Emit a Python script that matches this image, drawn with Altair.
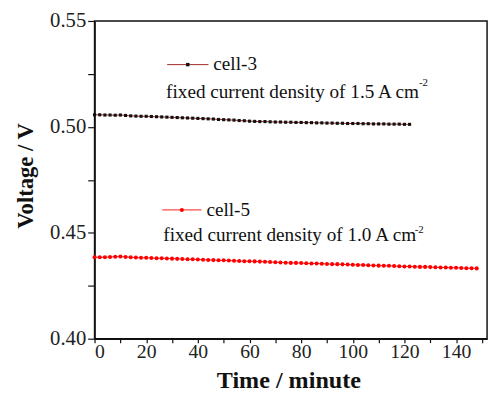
import altair as alt
import pandas as pd

# ---- data ----
time_cell3 = [0, 2, 4, 6, 8, 10, 12, 14, 16, 18, 20, 22, 24, 26, 28, 30, 32, 34, 36, 38,
              40, 42, 44, 46, 48, 50, 52, 54, 56, 58, 60, 62, 64, 66, 68, 70, 72, 74, 76, 78,
              80, 82, 84, 86, 88, 90, 92, 94, 96, 98, 100, 102, 104, 106, 108, 110, 112, 114,
              116, 118, 120, 122]
volt_cell3 = [0.5057, 0.5057, 0.5056, 0.5056, 0.5055, 0.5056, 0.5054, 0.5052, 0.5051, 0.5050,
              0.5050, 0.5049, 0.5048, 0.5047, 0.5046, 0.5045, 0.5044, 0.5043, 0.5042, 0.5041,
              0.5040, 0.5039, 0.5038, 0.5037, 0.5035, 0.5034, 0.5033, 0.5032, 0.5030, 0.5029,
              0.5027, 0.5026, 0.5025, 0.5025, 0.5024, 0.5023, 0.5023, 0.5022, 0.5022, 0.5021,
              0.5021, 0.5020, 0.5020, 0.5019, 0.5019, 0.5018, 0.5018, 0.5017, 0.5017, 0.5016,
              0.5016, 0.5016, 0.5015, 0.5015, 0.5014, 0.5014, 0.5014, 0.5013, 0.5013, 0.5013,
              0.5012, 0.5012]

time_cell5 = [0, 2, 4, 6, 8, 10, 12, 14, 16, 18, 20, 22, 24, 26, 28, 30, 32, 34, 36, 38,
              40, 42, 44, 46, 48, 50, 52, 54, 56, 58, 60, 62, 64, 66, 68, 70, 72, 74, 76, 78,
              80, 82, 84, 86, 88, 90, 92, 94, 96, 98, 100, 102, 104, 106, 108, 110, 112, 114,
              116, 118, 120, 122, 124, 126, 128, 130, 132, 134, 136, 138, 140, 142, 144, 146, 148]
volt_cell5 = [0.4385, 0.4385, 0.4385, 0.4386, 0.4387, 0.4388, 0.4386, 0.4385, 0.4383, 0.4382,
              0.4382, 0.4381, 0.4380, 0.4380, 0.4379, 0.4378, 0.4377, 0.4376, 0.4375, 0.4375,
              0.4374, 0.4373, 0.4372, 0.4371, 0.4370, 0.4370, 0.4369, 0.4368, 0.4367, 0.4366,
              0.4366, 0.4365, 0.4364, 0.4363, 0.4362, 0.4361, 0.4360, 0.4359, 0.4358, 0.4358,
              0.4357, 0.4356, 0.4355, 0.4355, 0.4354, 0.4353, 0.4352, 0.4352, 0.4351, 0.4350,
              0.4349, 0.4348, 0.4348, 0.4347, 0.4346, 0.4345, 0.4344, 0.4344, 0.4343, 0.4342,
              0.4341, 0.4341, 0.4340, 0.4339, 0.4339, 0.4338, 0.4337, 0.4336, 0.4336, 0.4335,
              0.4335, 0.4334, 0.4333, 0.4333, 0.4332]

x_ticks = [0, 10, 20, 30, 40, 50, 60, 70, 80, 90, 100, 110, 120, 130, 140, 150]
y_ticks = [0.40, 0.425, 0.45, 0.475, 0.50, 0.525, 0.55]

# legend samples (data coordinates)
key_name = ["cell-3", "cell-5"]
key_x0 = [28.1, 26.2]
key_x1 = [44.1, 41.4]
key_xm = [36.1, 33.8]
key_y = [0.5294, 0.4608]

# annotation texts
ann_text = ["cell-3", "fixed current density of 1.5 A cm", "-2",
            "cell-5", "fixed current density of 1.0 A cm", "-2"]
ann_x = [46.0, 27.7, 125.6, 43.3, 26.6, 124.0]
ann_y = [0.5269, 0.5135, 0.5193, 0.4577, 0.4461, 0.4500]
ann_size = [19.5, 19.5, 11, 19.5, 19.5, 11]

FONT = "Liberation Serif"

df3 = pd.DataFrame({"time": time_cell3, "voltage": volt_cell3})
df5 = pd.DataFrame({"time": time_cell5, "voltage": volt_cell5})
dkey = pd.DataFrame({"name": key_name, "x0": key_x0, "x1": key_x1, "xm": key_xm, "y": key_y})
dann = pd.DataFrame({"t": ann_text, "x": ann_x, "y": ann_y, "s": ann_size})

xs = alt.Scale(domain=[0, 152], nice=False, zero=False)
ys = alt.Scale(domain=[0.40, 0.55], nice=False, zero=False)

xaxis = alt.Axis(
    title="Time / minute", values=x_ticks,
    labelExpr="datum.value % 20 === 0 ? datum.label : ''",
    tickSize=4, labelPadding=-1, grid=False, labelFontSize=20,
    titleX=197, titleY=50, titleBaseline="alphabetic", titleAlign="center", titleFontSize=24.5,
)
yaxis = alt.Axis(
    title="Voltage / V", values=y_ticks,
    labelExpr="(round(datum.value * 1000) % 50 === 0) ? format(datum.value, '.2f') : ''",
    tickSize=7, labelPadding=2, grid=False, labelFontSize=21,
    titleX=-63, titleY=157, titleAngle=270, titleBaseline="alphabetic", titleAlign="center",
    titleFontSize=23,
)

def X(f):
    return alt.X(f, scale=xs, axis=xaxis)

def Y(f):
    return alt.Y(f, scale=ys, axis=yaxis)

line3 = alt.Chart(df3).mark_line(color="#a02828", strokeWidth=1).encode(x=X("time:Q"), y=Y("voltage:Q"))
pts3 = alt.Chart(df3).mark_square(color="#111111", size=10, opacity=1).encode(x=X("time:Q"), y=Y("voltage:Q"))
line5 = alt.Chart(df5).mark_line(color="#ff1a1a", strokeWidth=1).encode(x=X("time:Q"), y=Y("voltage:Q"))
pts5 = alt.Chart(df5).mark_circle(color="#ff0000", size=17, opacity=1).encode(x=X("time:Q"), y=Y("voltage:Q"))

key_rule = alt.Chart(dkey).mark_rule(strokeWidth=1).encode(
    x=X("x0:Q"), x2="x1:Q", y=Y("y:Q"),
    color=alt.Color("name:N", scale=alt.Scale(domain=key_name, range=["#a02828", "#ff1a1a"]), legend=None),
)
key_pt3 = alt.Chart(dkey).transform_filter("datum.name === 'cell-3'").mark_square(
    color="#111111", size=12, opacity=1).encode(x=X("xm:Q"), y=Y("y:Q"))
key_pt5 = alt.Chart(dkey).transform_filter("datum.name === 'cell-5'").mark_circle(
    color="#ff0000", size=17, opacity=1).encode(x=X("xm:Q"), y=Y("y:Q"))

texts = alt.Chart(dann).mark_text(font=FONT, align="left", baseline="alphabetic", color="#111111").encode(
    x=X("x:Q"), y=Y("y:Q"), text="t:N", size=alt.Size("s:Q", scale=None, legend=None),
)

chart = alt.layer(line3, line5, pts3, pts5, key_rule, key_pt3, key_pt5, texts).properties(
    width=399, height=323,
    autosize=alt.AutoSizeParams(type="none"),
    padding={"left": 88, "top": 10, "right": 4, "bottom": 52},
).configure_view(
    stroke="#111111", strokeWidth=1.5,
).configure_axis(
    labelFont=FONT, labelColor="#222222",
    titleFont=FONT, titleFontWeight="bold", titleColor="#111111",
    domainColor="#111111", domainWidth=1.5, tickColor="#111111", tickWidth=1.2,
)

chart.save("out.html", embed_options={"renderer": "svg", "actions": False})
